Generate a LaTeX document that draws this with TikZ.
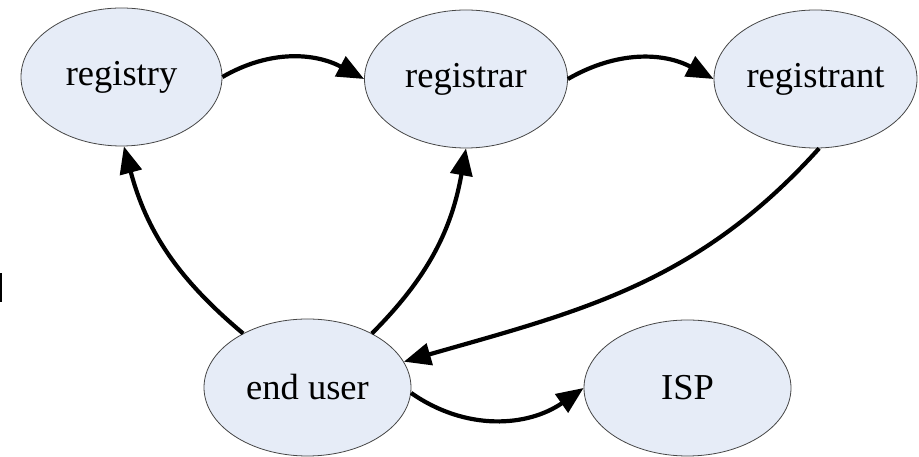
\documentclass[tikz,border=0pt]{standalone}
\usepackage{fontspec}
\setmainfont{Liberation Serif}
\usetikzlibrary{shapes.geometric,arrows.meta}
\definecolor{nodefill}{RGB}{230,236,247}
\definecolor{nodeline}{RGB}{70,70,70}
\tikzset{
  ent/.style={ellipse, draw=nodeline, line width=0.8pt, fill=nodefill, inner sep=0pt,
    font=\fontsize{36.5}{40}\selectfont},
  conn/.style={line width=4.2pt, -{Triangle[length=27pt,width=22pt]}}
}
\begin{document}
\begin{tikzpicture}[x=1pt,y=1pt]
\path[use as bounding box] (0,0) rectangle (919,457);
\node[ent, minimum width=201pt, minimum height=138pt] (registry) at (121.5,380) {registry};
\node[ent, minimum width=203pt, minimum height=138pt] (registrar) at (466,378) {registrar};
\node[ent, minimum width=203pt, minimum height=138pt] (registrant) at (815.5,378) {registrant};
\node[ent, minimum width=207pt, minimum height=137pt] (enduser) at (307.5,69.5) {end user};
\node[ent, minimum width=207pt, minimum height=136pt] (isp) at (687.5,69) {ISP};
\draw[conn] (registry.east) to[out=30,in=152] (registrar.west);
\draw[conn] (registrar.east) to[out=30,in=152] (registrant.west);
\draw[conn] (enduser.140) to[out=140,in=-75] (registry.-88);
\draw[conn] (enduser.40) to[out=45,in=-100] (registrar.-90);
\draw[conn] (registrant.-87) to[out=-132,in=16] (enduser.15);
\draw[conn] (enduser.-3) to[out=-35,in=-145] (isp.west);
\fill (0,155) rectangle (2,184);
\end{tikzpicture}
\end{document}
